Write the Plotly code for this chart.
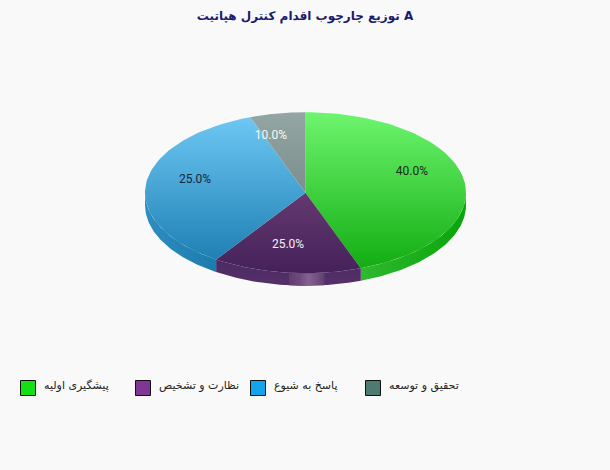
import numpy as np
import plotly.graph_objects as go

title_text = "توزیع چارچوب اقدام کنترل هپاتیت A"
categories = ["پیشگیری اولیه", "نظارت و تشخیص", "پاسخ به شیوع", "تحقیق و توسعه"]
label_values = [40.0, 25.0, 25.0, 10.0]
# the drawn wedges do not follow the printed percentages, these are read off the picture
drawn_shares = [44.4, 15.0, 35.0, 5.6]

swatch_colors = ["#12e012", "#7f3694", "#12a5ee", "#4f7a72"]
top_gradients = [
    ["#6ef56e", "#12ad12"],
    ["#64396f", "#45215a"],
    ["#6dc7f3", "#1f80b4"],
    ["#94a6a4", "#7b8e8b"],
]
rim_gradients = [
    ["#2fb92f", "#09a509"],
    ["#55306a", "#4c2a60"],
    ["#2f8dc0", "#1a7cad"],
    ["#7b8e8b", "#7b8e8b"],
]
label_colors = ["#1d2a1d", "#f4f0f6", "#16263a", "#f6f8f8"]
glint_scale = [[0, "#5f3d6e"], [0.3, "#6f4a7e"], [0.55, "#86618f"], [0.8, "#73507f"], [1, "#5f3d6e"]]

bg_color = "#f9f9f9"
title_color = "#1c1a6b"

# pie geometry in pixels, the axes below turn it into a squashed unit circle
W, H = 610, 470
cx, cy = 305.5, 192.7
rx, ry = 160.5, 80.5
rim = 12.5 / ry


def arc(a0, a1, n=80):
    t = np.radians(np.linspace(a0, a1, n))
    return np.sin(t), np.cos(t)


def rim_path(a0, a1):
    x, y = arc(a0, a1)
    return np.r_[x, x[::-1], x[0]], np.r_[y, y[::-1] - rim, y[0]]


edges = np.r_[0, np.cumsum(drawn_shares)] * 3.6
fig = go.Figure()

# side wall first, only the front half of the circle shows
for i in range(len(categories)):
    a0, a1 = max(edges[i], 90), min(edges[i + 1], 270)
    if a1 <= a0:
        continue
    x, y = rim_path(a0, a1)
    fig.add_trace(go.Scatter(
        x=x, y=y, mode="lines", line=dict(width=0), fill="toself",
        fillgradient=dict(type="horizontal" if i != 1 else "vertical",
                          colorscale=[[0, rim_gradients[i][0]], [1, rim_gradients[i][1]]]),
        hoverinfo="skip",
    ))

# light stripe on the purple wall
x, y = rim_path(173.2, 185.9)
fig.add_trace(go.Scatter(
    x=x, y=y, mode="lines", line=dict(width=0), fill="toself",
    fillgradient=dict(type="horizontal", colorscale=glint_scale),
    hoverinfo="skip",
))

# top face
for i in range(len(categories)):
    x, y = arc(edges[i], edges[i + 1])
    fig.add_trace(go.Scatter(
        x=np.r_[0, x, 0], y=np.r_[0, y, 0], mode="lines", line=dict(width=0), fill="toself",
        fillgradient=dict(type="vertical",
                          colorscale=[[0, top_gradients[i][1]], [1, top_gradients[i][0]]]),
        hoverinfo="skip",
    ))

# labels sit on the printed percentages, not on the drawn wedges
mid = (np.r_[0, np.cumsum(label_values)[:-1]] + np.array(label_values) / 2) * 3.6
fig.add_trace(go.Scatter(
    x=0.697 * np.sin(np.radians(mid)),
    y=0.697 * np.cos(np.radians(mid)) + 3.5 / ry,
    mode="text",
    text=[f"{v:.1f}%" for v in label_values],
    textposition="middle center",
    textfont=dict(family="Roboto, sans-serif", size=12, color=label_colors),
    hoverinfo="skip",
))

# legend, fixed 115px columns
for i, name in enumerate(categories):
    left = 20.5 + 115 * i
    fig.add_shape(
        type="rect", xref="paper", yref="paper",
        x0=left / W, x1=(left + 15) / W, y0=1 - 395.5 / H, y1=1 - 380.5 / H,
        fillcolor=swatch_colors[i], line=dict(color="#111111", width=1),
    )
    fig.add_annotation(
        xref="paper", yref="paper", x=(left + 21.5) / W, y=1 - 385.5 / H,
        text=name, showarrow=False, xanchor="left", yanchor="middle",
        font=dict(family="DejaVu Sans, sans-serif", size=11, color="#222222"),
    )

fig.update_layout(
    width=W, height=H,
    paper_bgcolor=bg_color, plot_bgcolor=bg_color,
    margin=dict(l=0, r=0, t=0, b=0),
    showlegend=False,
    title=dict(
        text=title_text, x=0.5, xanchor="center", y=1 - 15.5 / H, yanchor="middle",
        font=dict(family="DejaVu Sans, sans-serif", size=12, color=title_color, weight="bold"),
    ),
)
fig.update_xaxes(visible=False, range=[-cx / rx, (W - cx) / rx], fixedrange=True)
fig.update_yaxes(visible=False, range=[(cy - H) / ry, cy / ry], fixedrange=True)

fig.write_html("out.html", config={"displayModeBar": False},
               post_script="document.body.style.margin='0';document.body.style.overflow='hidden';")
